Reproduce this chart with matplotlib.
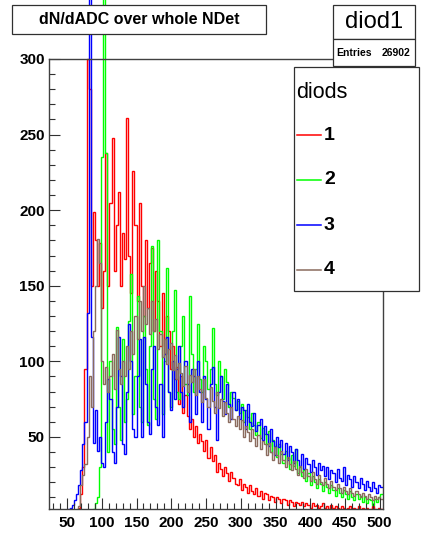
import numpy as np
import matplotlib
matplotlib.use("Agg")
import matplotlib.pyplot as plt
from matplotlib.patches import Rectangle
from matplotlib.ticker import MultipleLocator
from matplotlib.lines import Line2D

# ADC binning: 3 channels per bin from 24 to 504
bin_lo, bin_hi, bin_w = 24, 504, 3
entries = 26902

diod_1 = [
    0, 0, 0, 0, 0, 0, 0, 0, 0, 0,
    0, 0, 0, 1, 3, 12, 30, 95, 300, 280,
    150, 199, 180, 150, 178, 135, 160, 238, 150, 205,
    248, 160, 190, 212, 150, 185, 168, 261, 170, 145,
    226, 190, 140, 205, 150, 130, 180, 135, 165, 175,
    120, 160, 140, 110, 145, 105, 130, 120, 95, 110,
    88, 96, 72, 90, 66, 78, 64, 55, 62, 50,
    57, 46, 52, 47, 41, 48, 36, 43, 34, 38,
    27, 33, 29, 24, 30, 26, 21, 27, 23, 19,
    18, 22, 15, 19, 17, 13, 18, 14, 12, 16,
    11, 14, 9, 13, 12, 8, 11, 10, 7, 10,
    9, 6, 9, 8, 5, 8, 7, 4, 7, 6,
    5, 7, 4, 6, 5, 3, 6, 4, 5, 3,
    4, 6, 3, 4, 2, 5, 3, 4, 3, 2,
    4, 3, 1, 3, 4, 2, 3, 2, 4, 1,
    3, 2, 3, 1, 2, 4, 2, 1, 3, 2,
]

diod_2 = [
    0, 0, 0, 0, 0, 0, 0, 0, 0, 0,
    0, 0, 0, 0, 0, 0, 0, 0, 0, 0,
    0, 2, 6, 10, 30, 235, 345, 238, 40, 100,
    55, 45, 123, 70, 48, 115, 60, 75, 127, 158,
    65, 90, 143, 70, 60, 130, 95, 58, 110, 176,
    75, 62, 180, 120, 65, 100, 162, 80, 70, 120,
    147, 80, 75, 110, 130, 85, 78, 143, 105, 80,
    95, 125, 88, 80, 110, 100, 82, 95, 122, 85,
    78, 100, 90, 75, 95, 86, 70, 80, 76, 68,
    74, 66, 72, 60, 68, 63, 55, 66, 58, 51,
    60, 49, 56, 52, 45, 54, 40, 48, 44, 37,
    45, 39, 33, 41, 36, 29, 38, 31, 42, 26,
    30, 24, 28, 21, 26, 18, 24, 20, 16, 22,
    19, 14, 20, 17, 13, 18, 15, 11, 16, 13,
    10, 15, 12, 9, 14, 10, 8, 12, 9, 11,
    7, 10, 6, 9, 8, 5, 9, 7, 10, 12,
]

diod_3 = [
    0, 0, 0, 0, 0, 0, 0, 0, 1, 2,
    3, 5, 8, 12, 18, 28, 45, 60, 132, 345,
    116, 46, 68, 41, 50, 33, 30, 60, 88, 75,
    40, 33, 70, 116, 90, 45, 39, 80, 125, 100,
    55, 50, 90, 115, 50, 116, 85, 60, 52, 95,
    110, 70, 58, 85, 50, 105, 116, 80, 68, 100,
    75, 95, 110, 80, 70, 100, 85, 60, 95, 90,
    65, 100, 80, 60, 90, 75, 55, 85, 96, 70,
    48, 80, 90, 74, 65, 85, 72, 62, 80, 68,
    75, 62, 70, 68, 55, 72, 60, 57, 66, 54,
    58, 62, 48, 57, 52, 44, 55, 47, 38, 50,
    43, 48, 39, 46, 35, 44, 40, 33, 42, 35,
    31, 39, 29, 36, 32, 27, 35, 30, 25, 33,
    28, 31, 24, 30, 22, 28, 26, 20, 29, 23,
    21, 30, 18, 25, 22, 17, 24, 20, 16, 23,
    19, 15, 21, 17, 14, 20, 16, 13, 18, 17,
]

diod_4 = [
    0, 0, 0, 0, 0, 0, 0, 0, 0, 0,
    0, 0, 0, 1, 4, 18, 25, 32, 50, 90,
    70, 120, 150, 181, 165, 100, 85, 96, 80, 90,
    105, 82, 121, 95, 85, 100, 90, 110, 95, 120,
    105, 130, 115, 140, 120, 150, 125, 135, 118, 140,
    120, 128, 108, 118, 103, 115, 98, 108, 112, 94,
    104, 88, 99, 92, 84, 97, 80, 91, 86, 95,
    78, 90, 82, 73, 88, 76, 70, 83, 74, 66,
    80, 69, 75, 64, 73, 66, 60, 70, 62, 57,
    64, 55, 61, 50, 57, 53, 47, 55, 49, 44,
    51, 42, 47, 45, 38, 46, 40, 35, 43, 38,
    33, 41, 35, 30, 37, 32, 28, 34, 29, 25,
    31, 27, 23, 29, 24, 21, 27, 22, 19, 25,
    20, 18, 23, 19, 16, 21, 17, 15, 19, 16,
    13, 17, 14, 12, 16, 13, 11, 14, 12, 10,
    13, 11, 9, 12, 10, 8, 11, 9, 10, 9,
]

series = [diod_1, diod_2, diod_3, diod_4]
labels = ["1", "2", "3", "4"]
colors = ["#ff0000", "#00ff00", "#0000ff", "#8a6b5e"]

x_ticks = [50, 100, 150, 200, 250, 300, 350, 400, 450, 500]
y_ticks = [50, 100, 150, 200, 250, 300]

W, H = 422, 557
fig = plt.figure(figsize=(W / 100, H / 100), dpi=100)
fig.patch.set_facecolor("white")


def fx(px):
    return px / W


def fy(py):
    return 1 - py / H


ax_l, ax_r, ax_t, ax_b = 49, 383, 59, 509
ax = fig.add_axes([fx(ax_l), fy(ax_b), fx(ax_r - ax_l), (ax_b - ax_t) / H])
ax.set_facecolor("white")

edges = np.arange(bin_lo, bin_hi + 1, bin_w)

# histograms may overshoot the frame top, up to the pad edge
clip = Rectangle((fx(ax_l), fy(ax_b)), fx(ax_r - ax_l), 1 - fy(ax_b),
                 transform=fig.transFigure, facecolor="none")
for vals, c in zip(series, colors):
    st = ax.stairs(vals, edges, baseline=None, color=c, lw=1.0)
    st.set_clip_path(clip)

ax.set_xlim(bin_lo, 504.7)
ax.set_ylim(2.3, 300)

ax.set_xticks(x_ticks)
ax.set_yticks(y_ticks)
ax.xaxis.set_minor_locator(MultipleLocator(10))
ax.yaxis.set_minor_locator(MultipleLocator(10))
ax.tick_params(which="both", direction="in", top=False, right=False,
               color="#303030", width=0.8)
ax.tick_params(which="major", length=8)
ax.tick_params(which="minor", length=4)
ax.tick_params(axis="x", pad=5)
ax.tick_params(axis="y", pad=3)
for lab in ax.get_xticklabels() + ax.get_yticklabels():
    lab.set_fontfamily("Liberation Sans")
    lab.set_fontweight("bold")
    lab.set_fontsize(11)
for sp in ax.spines.values():
    sp.set_color("#404040")
    sp.set_linewidth(1.0)


def box(x0, y0, x1, y1):
    r = Rectangle((fx(x0), fy(y1)), fx(x1 - x0), (y1 - y0) / H,
                  transform=fig.transFigure, facecolor="white",
                  edgecolor="#303030", lw=0.9, zorder=5)
    fig.add_artist(r)


# title pave
box(12, 5, 266, 34)
fig.text(fx(139), fy(20), "dN/dADC over whole NDet", ha="center", va="center",
         fontfamily="Liberation Sans", fontweight="bold", fontsize=11.5, zorder=6)

# statistics box
box(333, 5, 415, 39)
box(333, 39, 415, 66)
fig.text(fx(374), fy(22), "diod1", ha="center", va="center",
         fontfamily="Liberation Sans", fontsize=17, zorder=6)
fig.text(fx(336), fy(53), "Entries", ha="left", va="center",
         fontfamily="Liberation Sans", fontweight="bold", fontsize=7.5, zorder=6)
fig.text(fx(410), fy(53), f"{entries}", ha="right", va="center",
         fontfamily="Liberation Sans", fontweight="bold", fontsize=7.5, zorder=6)

# legend
box(294, 67, 419, 291)
fig.text(fx(296), fy(92), "diods", ha="left", va="center",
         fontfamily="Liberation Sans", fontsize=15.5, zorder=6)
rows = [135, 180, 225, 270]
for yy, lab, c in zip(rows, labels, colors):
    fig.add_artist(Line2D([fx(297), fx(321)], [fy(yy), fy(yy)], color=c,
                          lw=1.1, transform=fig.transFigure, zorder=6))
    fig.text(fx(324), fy(yy), lab, ha="left", va="center",
             fontfamily="Liberation Sans", fontweight="bold", fontsize=14, zorder=6)

fig.savefig("out.png", dpi=100)
